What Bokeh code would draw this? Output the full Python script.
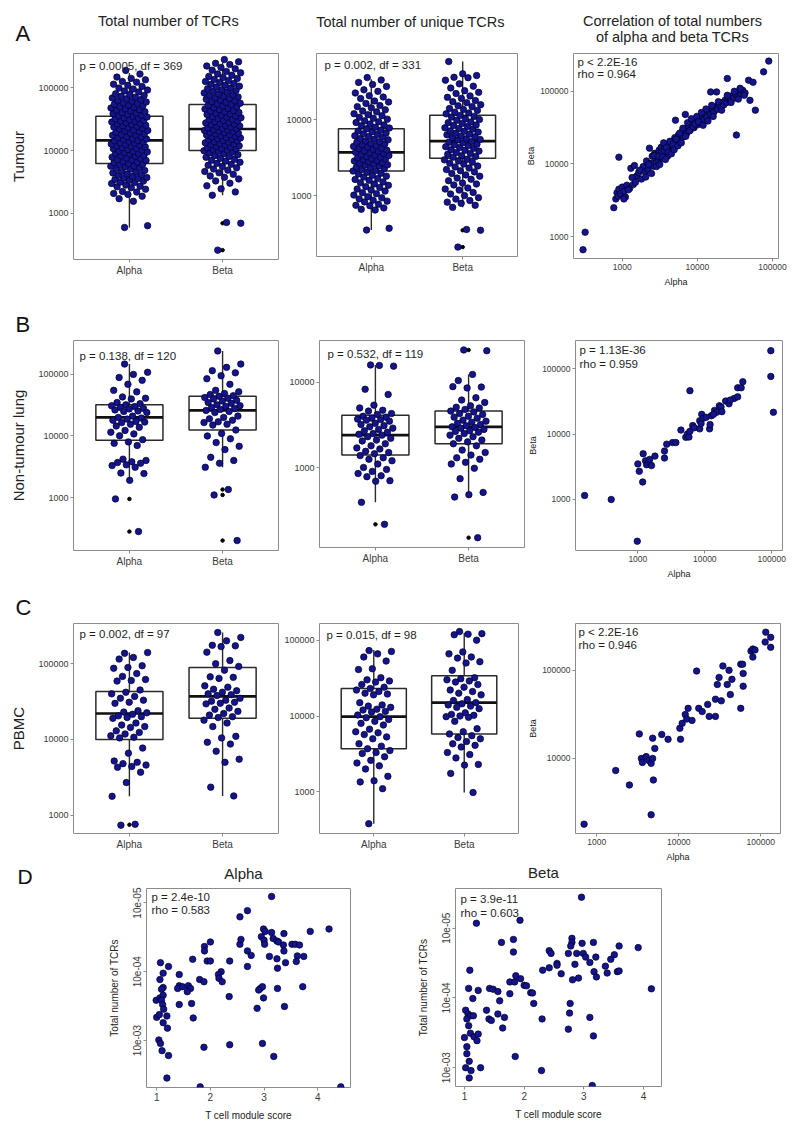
import numpy as np
from bokeh.plotting import figure
from bokeh.layouts import row, column
from bokeh.models import Range1d, FixedTicker, NumeralTickFormatter, Label, CustomJSTickFormatter
from bokeh.embed import file_html
from bokeh.resources import INLINE

# ---------------- data ----------------
groups = ["Alpha", "Beta"]

# Row A: Tumour, total number of TCRs
tum_tot_alpha = [600, 640, 1560, 1720, 1880, 2010, 2080, 2190, 2240, 2430, 2570, 2650, 2710, 2830, 2990, 3110, 3150,
                 3270, 3360, 3480, 3580, 3640, 3720, 3910, 4050, 4140, 4230, 4410, 4560, 4660, 4830, 5070, 5180, 5290,
                 5480, 5620, 5750, 5940, 6050, 6180, 6460, 6580, 6690, 6970, 7090, 7210, 7520, 7640, 7830, 8120, 8250,
                 8390, 8810, 8960, 9060, 9340, 9520, 9690, 9950, 10150, 10380, 10690, 10880, 11120, 11450, 11670,
                 11890, 12230, 12480, 12710, 13080, 13320, 13590, 14030, 14250, 14440, 15010, 15220, 15480, 16170,
                 16440, 16730, 17420, 17690, 17980, 18420, 18890, 19510, 19960, 20470, 20870, 21230, 22180, 22650,
                 23040, 23570, 24190, 24700, 25220, 25800, 26430, 27050, 27580, 28300, 28970, 29600, 30190, 31000,
                 31840, 32500, 33190, 34100, 34920, 35700, 36480, 37400, 38410, 39300, 40190, 41400, 42570, 43600,
                 44610, 46000, 47230, 48500, 49790, 51200, 52710, 54100, 55690, 57400, 59080, 60700, 62340, 64300,
                 66480, 68400, 70350, 72600, 74920, 77300, 79580, 85310, 88200, 91240, 94500, 97930, 104200, 108300,
                 112900, 121400, 125100, 132600, 139700, 146500, 163800, 187000]
tum_tot_beta = [262, 700, 720, 1950, 2200, 2460, 2750, 3030, 3290, 3540, 3760, 3950, 4180, 4420, 4650, 4880, 5090, 5310,
                5560, 5830, 6040, 6250, 6520, 6790, 7010, 7240, 7530, 7810, 8050, 8290, 8600, 8880, 9150, 9410, 9670,
                9930, 10200, 10410, 10620, 10840, 11110, 11370, 11620, 11880, 12150, 12440, 12700, 12960, 13260,
                13580, 13860, 14150, 14490, 14830, 15130, 15440, 15800, 16150, 16500, 16860, 17230, 17590, 17950,
                18320, 18740, 19170, 19550, 19940, 20400, 20850, 21250, 21680, 22140, 22610, 23050, 23580, 24090,
                24540, 25110, 25690, 26240, 26820, 27460, 28130, 28740, 29370, 30110, 30860, 31560, 32280, 33100,
                33910, 34790, 35460, 36570, 37290, 38210, 39170, 40220, 41240, 42360, 43380, 44550, 45720, 46920,
                48150, 49510, 50820, 52230, 53640, 55070, 56510, 58190, 59870, 61520, 63140, 65010, 66920, 68860,
                70880, 72810, 75140, 77190, 79730, 81880, 84610, 87170, 89970, 92480, 95620, 98340, 101800, 105200,
                108600, 112300, 115900, 120500, 124300, 129200, 133700, 139100, 144200, 150300, 156800, 164500,
                171300, 180000, 188400, 198200, 207900, 219600, 231600, 242000, 256200, 278000]
tum_tot_q1 = [6200, 10000]
tum_tot_med = [14500, 22000]
tum_tot_q3 = [35000, 54000]
tum_tot_wlo = [600, 1950]
tum_tot_whi = [170000, 250000]
tum_tot_out = [[], [262, 700]]

# Row A: Tumour, unique TCRs
tum_uni_alpha = [352, 371, 645, 660, 688, 734, 745, 768, 826, 845, 871, 905, 935, 968, 1015, 1060, 1092, 1146, 1180,
                 1218, 1277, 1310, 1364, 1425, 1470, 1513, 1588, 1630, 1676, 1752, 1800, 1846, 1927, 1970, 2024, 2105,
                 2140, 2196, 2273, 2320, 2368, 2447, 2500, 2543, 2618, 2670, 2714, 2796, 2850, 2894, 2977, 3030, 3078,
                 3157, 3210, 3266, 3364, 3420, 3487, 3582, 3640, 3706, 3815, 3880, 3958, 4074, 4150, 4226, 4363, 4440,
                 4528, 4672, 4760, 4857, 5024, 5120, 5228, 5413, 5530, 5648, 5862, 5980, 6117, 6364, 6490, 6648, 6921,
                 7070, 7248, 7563, 7740, 7928, 8294, 8500, 8716, 9143, 9380, 9627, 10120, 10400, 10690, 11270, 11600,
                 11940, 12630, 13000, 13430, 14270, 14800, 15260, 16320, 17000, 17570, 18940, 19800, 20570, 22380,
                 23500, 24630, 27280, 29000, 30840, 33150, 35700]
tum_uni_beta = [210, 350, 358, 700, 745, 790, 820, 860, 900, 940, 1000, 1050, 1100, 1180, 1220, 1260, 1380, 1420, 1460,
                1570, 1640, 1700, 1800, 1870, 1950, 2050, 2120, 2200, 2300, 2380, 2450, 2600, 2670, 2750, 2850, 2950,
                3000, 3200, 3270, 3350, 3500, 3590, 3700, 3850, 3940, 4000, 4200, 4300, 4400, 4550, 4660, 4750, 4950,
                5050, 5150, 5400, 5480, 5600, 5800, 5950, 6100, 6300, 6450, 6600, 6850, 7000, 7100, 7500, 7650, 7800,
                8100, 8350, 8500, 8900, 9100, 9300, 9800, 10000, 10200, 10800, 11000, 11300, 11900, 12200, 12500,
                13200, 13600, 14000, 14800, 15200, 15700, 16700, 17200, 17800, 19000, 19600, 20500, 22000, 22800,
                24000, 26000, 27500, 29500, 33000, 35500, 36000, 38000, 40000, 58000]
tum_uni_q1 = [2100, 3100]
tum_uni_med = [3700, 5200]
tum_uni_q3 = [7600, 11400]
tum_uni_wlo = [352, 700]
tum_uni_whi = [34000, 58000]
tum_uni_out = [[], [210, 350]]

# Row A: correlation alpha vs beta (tumour)
tum_cor_alpha = [300, 320, 770, 820, 850, 880, 900, 950, 1000, 1050, 1100, 900, 1150, 1250, 1300, 1400, 1450, 1550, 1650,
                 1800, 1900, 2000, 2100, 2200, 2300, 2400, 2500, 2600, 2700, 2800, 2900, 3000, 3100, 3200, 3300, 3400,
                 3500, 3600, 3700, 3800, 3900, 4000, 4200, 4400, 4600, 4800, 5000, 5100, 5300, 5600, 5900, 6200, 6500,
                 6900, 6800, 7200, 7600, 8000, 8500, 9000, 9500, 10000, 10500, 11000, 11600, 12200, 12800, 13500,
                 14200, 15000, 15000, 15800, 16600, 17500, 18000, 18500, 19500, 20500, 21500, 22500, 23500, 25000,
                 24500, 26000, 27500, 29000, 30500, 32000, 33000, 34000, 36000, 38000, 40000, 43000, 48000, 50000,
                 55000, 59000, 76000, 89000,
                 1050, 1200, 1350, 1500, 1700, 2050, 2250, 2450, 2650, 2850, 3050, 3150, 3350, 3450, 3550, 3650, 3750,
                 3850, 4100, 4300, 4500, 4700, 4900, 5200, 5500, 5800, 6100, 6400, 7000, 7400, 7800, 8300, 8800, 9300,
                 9800, 10300, 11300, 11900, 13000, 13800, 15500, 16200, 19000, 21000, 25000, 28000, 31000, 35000,
                 37000, 42000]
tum_cor_beta = [660, 1150, 2500, 3300, 4000, 3600, 4500, 3900, 4800, 4200, 3500, 12400, 5100, 4600, 8700, 5200, 9500,
                6800, 7600, 6200, 9200, 7800, 11000, 8400, 16500, 10200, 12800, 9300, 14000, 11600, 13500, 10800,
                15500, 12200, 17000, 14200, 11800, 16200, 13200, 18500, 15000, 12800, 17500, 14600, 20500, 16800,
                23000, 40000, 19000, 25000, 21000, 27500, 23500, 48000, 30000, 26500, 33000, 29000, 36000, 31500,
                39000, 34500, 42000, 37500, 45000, 40500, 49000, 44000, 53000, 98000, 47500, 57000, 52000, 61000,
                98000, 56500, 66000, 60500, 70000, 65000, 76000, 150000, 70000, 81000, 75000, 87000, 80000, 93000,
                25000, 86000, 97000, 90000, 103000, 95000, 142000, 75000, 133000, 55000, 185000, 260000,
                3300, 4400, 6500, 5600, 8200, 6600, 9800, 7400, 13000, 9200, 12800, 9800, 14800, 12500, 19500, 15200,
                11500, 16800, 14500, 20500, 13800, 18500, 15700, 22000, 17800, 26500, 19500, 31000, 24000, 37000,
                28500, 42000, 32500, 35500, 45000, 38000, 51000, 34000, 57000, 39000, 64000, 45000, 72000, 55000,
                88000, 70000, 100000, 78000, 110000, 88000]

# Row B: non-tumour lung, total
ntl_tot_alpha = [147000, 108000, 100000, 89000, 80000, 69000, 55000, 52000, 43000, 41000, 40000, 35000, 33500, 32000,
                 31000, 30000, 29000, 28000, 27500, 26500, 25500, 25000, 24000, 21000, 20000, 19500, 18800, 18000,
                 17200, 16500, 16800, 15500, 14500, 13800, 12300, 11500, 10800, 10100, 8700, 8000, 7600, 7000, 4200,
                 4000, 3800, 3700, 3600, 3400, 3300, 3100, 2500, 2450, 1900, 950, 280]
ntl_tot_beta = [240000, 147000, 130000, 115000, 106000, 95000, 85000, 69000, 55000, 52000, 49000, 47000, 45000, 44000,
                42000, 41000, 40000, 38000, 37000, 35000, 34000, 32000, 31000, 30000, 29000, 28000, 27000, 26000,
                25000, 24000, 21000, 20000, 19000, 18000, 17000, 16500, 15500, 15000, 12500, 11000, 10000, 9000, 7800,
                6800, 6000, 4500, 4000, 3600, 3100, 1350, 1100, 200]
ntl_tot_q1 = [8500, 12500]
ntl_tot_med = [20000, 26000]
ntl_tot_q3 = [32000, 44000]
ntl_tot_wlo = [2000, 3100]
ntl_tot_whi = [147000, 240000]
ntl_tot_out = [[280, 950], [200, 1100, 1350]]

# Row B: non-tumour lung, unique
ntl_uni_alpha = [16000, 15500, 15800, 8300, 7200, 5400, 5000, 4700, 4600, 4300, 4200, 4000, 3900, 3800, 3700, 3650,
                 3600, 3500, 3300, 3200, 3100, 3000, 2900, 2800, 2700, 2600, 2500, 2450, 2400, 2300, 2200, 2100, 2050,
                 1900, 1800, 1700, 1650, 1550, 1500, 1450, 1380, 1300, 1250, 1200, 1100, 1000, 950, 900, 850, 800, 780,
                 700, 690, 390, 215]
ntl_uni_beta = [24000, 23500, 12400, 10500, 8800, 8600, 8900, 6600, 6200, 5800, 5300, 5100, 5000, 4800, 4600, 4500,
                4300, 4200, 4000, 3900, 3800, 3600, 3500, 3400, 3300, 3200, 3100, 3000, 2950, 2900, 2800, 2700, 2650,
                2600, 2500, 2400, 2300, 2200, 2100, 2000, 1900, 1800, 1600, 1500, 1400, 1300, 1250, 1150, 1100, 980,
                740, 510, 480, 450, 150]
ntl_uni_q1 = [1400, 1900]
ntl_uni_med = [2400, 3000]
ntl_uni_q3 = [4100, 4600]
ntl_uni_wlo = [390, 450]
ntl_uni_whi = [16000, 12400]
ntl_uni_out = [[215], [150, 24000]]

# Row B: correlation
ntl_cor_alpha = [160, 400, 980, 97000, 97000, 106000, 6000, 1000, 1050, 1180, 1200, 1300, 1350, 1450, 1500, 1600, 1800,
                 2500, 2500, 2700, 3300, 3700, 4400, 5200, 5500, 5800, 6000, 6600, 7000, 8400, 8400, 9000, 8800, 9500,
                 11800, 12000, 12500, 14000, 15000, 16500, 17500, 18000, 20500, 23000, 27500, 31000, 31000, 35000,
                 37000, 24000, 13500, 10500]
ntl_cor_beta = [1150, 1000, 230, 188000, 76000, 21500, 46000, 3500, 2700, 1850, 5000, 3900, 3400, 3700, 4100, 3300, 4600,
                4300, 5500, 7000, 7400, 7400, 11500, 8900, 10000, 9000, 11000, 13500, 12500, 12000, 16000, 20000,
                14500, 17500, 12000, 14000, 19000, 23000, 21500, 27000, 26000, 22000, 32000, 29000, 35000, 37000,
                51000, 51000, 63000, 33000, 20000, 18000]

# Row C: PBMC, total
pb_tot_alpha = [137000, 140000, 121000, 115000, 94000, 89000, 87000, 74000, 68000, 62000, 60000, 59000, 45000, 42000,
                40000, 37000, 35000, 33000, 31000, 30000, 24000, 23000, 22500, 21500, 20500, 20000, 19500, 19000,
                16500, 15500, 14800, 14400, 13000, 12400, 11800, 11200, 10700, 10500, 7700, 6600, 5200, 5000, 4800,
                4600, 4400, 4300, 3700, 2700, 1780, 760, 740]
pb_tot_beta = [258000, 222000, 200000, 175000, 172000, 168000, 142000, 110000, 100000, 92000, 82000, 67000, 66000,
               64000, 51000, 49000, 46000, 44000, 42000, 40000, 39000, 38000, 35000, 33000, 32000, 31000, 30000,
               29500, 26000, 25000, 23500, 22000, 21000, 20000, 19500, 18000, 16500, 14800, 11000, 10500, 9200, 8700,
               7000, 5500, 5000, 2350, 1800]
pb_tot_q1 = [10000, 19000]
pb_tot_med = [22000, 37000]
pb_tot_q3 = [43000, 89000]
pb_tot_wlo = [1780, 1800]
pb_tot_whi = [140000, 258000]
pb_tot_out = [[750], []]

# Row C: PBMC, unique
pb_uni_alpha = [73000, 71000, 66000, 60000, 53000, 42000, 41000, 32000, 30000, 29000, 28000, 26000, 24000, 23000,
                22000, 21000, 20000, 19500, 19000, 15000, 14000, 13500, 13000, 12300, 12000, 11500, 11300, 10300,
                9800, 9500, 9000, 8500, 8000, 7600, 6700, 6200, 6000, 5700, 5300, 5000, 4300, 4000, 3700, 3500, 3300,
                3200, 2900, 2600, 2400, 2200, 2000, 1600, 1400, 1350, 1100, 380]
pb_uni_beta = [130000, 122000, 120000, 118000, 100000, 70000, 66000, 60000, 58000, 52000, 50000, 40000, 32000, 31000,
               30000, 29000, 28000, 26000, 24000, 22000, 21000, 20000, 19000, 16500, 16000, 15000, 14500, 14000,
               13500, 13000, 12500, 11000, 10500, 10200, 10000, 9800, 9600, 8500, 6800, 6200, 5800, 5500, 5200,
               5000, 4600, 4300, 4100, 3900, 3300, 3100, 2800, 2300, 2250, 1750, 980]
pb_uni_q1 = [3700, 5800]
pb_uni_med = [9800, 15000]
pb_uni_q3 = [23000, 34000]
pb_uni_wlo = [380, 980]
pb_uni_whi = [74000, 125000]
pb_uni_out = [[], []]

# Row C: correlation
pb_cor_alpha = [700, 4600, 1700, 2500, 4900, 3500, 3600, 4000, 4300, 4600, 4800, 3300, 4800, 5100, 6200, 7400, 10500,
                10300, 11000, 12000, 13000, 12500, 14500, 16500, 17500, 19300, 22500, 23500, 28000, 28000, 29500,
                31000, 33000, 34500, 39000, 41000, 42500, 44500, 57000, 57000, 60000, 61000, 61000, 76000, 80000,
                85000, 80000, 115000, 113000, 132000, 132000]
pb_cor_beta = [1800, 2300, 7300, 5000, 5700, 10000, 9000, 10500, 9500, 8800, 10000, 19000, 17000, 13000, 18700, 16500,
               16500, 22000, 25000, 31500, 37000, 28000, 27000, 98000, 37000, 34000, 41000, 30000, 30000, 47000, 69000,
               83000, 45000, 112000, 69000, 100000, 53000, 79000, 37000, 117000, 117000, 66000, 92000, 165000,
               174000, 170000, 141000, 270000, 209000, 236000, 182000]

# Row D: T cell module score vs total number of TCRs
mod_alpha_score = [3.14, 2.69, 2.55, 4.21, 3.86, 2.95, 2.99, 3.02, 3.14, 3.37, 3.17, 3.24, 3.0, 3.01, 3.27, 3.52, 3.58,
                   3.66, 3.36, 2.55, 2.57, 2.0, 1.89, 1.89, 2.69, 2.76, 3.37, 3.1, 3.62, 3.74, 3.24, 3.40, 3.60, 1.67,
                   1.94, 2.0, 2.36, 1.07, 1.22, 2.69, 3.25, 2.2, 1.12, 1.42, 2.15, 2.16, 1.80, 1.88, 2.22, 1.06, 1.42,
                   1.39, 1.48, 1.59, 1.63, 1.12, 1.09, 1.57, 2.93, 2.97, 3.25, 3.72, 2.35, 2.90, 2.99, 0.99, 1.06,
                   1.12, 1.09, 1.11, 1.42, 1.65, 2.87, 3.38, 1.13, 1.0, 1.05, 1.19, 1.12, 1.2, 1.68, 1.04, 1.07, 1.10,
                   1.22, 1.88, 2.36, 2.97, 3.18, 1.19, 1.81, 4.43]
mod_alpha_tcr = [8.1e-6, 1.3e-5, 1.6e-5, 2.4e-5, 2.6e-5, 3.1e-5, 2.4e-5, 2.6e-5, 2.7e-5, 2.8e-5, 3.3e-5, 3.6e-5,
                 3.5e-5, 4.0e-5, 3.7e-5, 4.0e-5, 4.0e-5, 4.1e-5, 4.1e-5, 4.0e-5, 3.4e-5, 3.7e-5, 4.3e-5, 5.0e-5,
                 5.0e-5, 5.8e-5, 5.0e-5, 6.0e-5, 5.9e-5, 6.0e-5, 6.5e-5, 7.4e-5, 7.1e-5, 6.6e-5, 7.0e-5, 7.0e-5,
                 7.0e-5, 7.4e-5, 8.4e-5, 8.4e-5, 8.9e-5, 1.0e-4, 1.05e-4, 1.1e-4, 1.1e-4, 1.25e-4, 1.3e-4, 1.4e-4,
                 1.4e-4, 1.3e-4, 1.6e-4, 1.75e-4, 1.65e-4, 1.6e-4, 1.75e-4, 1.7e-4, 1.8e-4, 1.95e-4, 1.75e-4,
                 1.65e-4, 1.75e-4, 1.65e-4, 2.3e-4, 1.85e-4, 2.4e-4, 2.6e-4, 2.4e-4, 2.2e-4, 2.6e-4, 3.0e-4, 3.0e-4,
                 2.9e-4, 3.4e-4, 3.2e-4, 3.5e-4, 4.6e-4, 4.2e-4, 4.4e-4, 5.5e-4, 6.6e-4, 4.7e-4, 9.8e-4, 1.1e-3,
                 1.4e-3, 1.65e-3, 1.25e-3, 1.15e-3, 1.1e-3, 1.7e-3, 3.5e-3, 4.7e-3, 4.7e-3]
mod_beta_score = [2.96, 1.93, 1.2, 1.82, 1.62, 1.82, 2.80, 2.80, 2.78, 2.97, 3.16, 3.59, 3.91, 2.42, 2.45, 2.74, 2.88,
                  2.99, 3.03, 3.20, 3.51, 3.45, 3.36, 3.10, 2.85, 2.55, 2.55, 2.42, 2.31, 2.62, 2.81, 2.91, 3.17, 3.21,
                  3.39, 3.56, 3.59, 1.09, 1.86, 1.76, 1.84, 1.94, 2.0, 2.04, 2.11, 2.14, 1.76, 1.07, 1.23, 1.42, 1.48,
                  1.56, 1.14, 1.59, 2.16, 2.77, 1.02, 1.06, 1.10, 1.15, 1.37, 1.41, 1.45, 1.56, 1.67, 1.04, 1.07,
                  2.76, 3.10, 2.30, 1.64, 2.74, 1.0, 1.10, 1.16, 1.23, 1.21, 3.16, 1.04, 1.04, 1.08, 1.85, 1.02, 1.11,
                  1.27, 2.29, 1.08, 3.14, 4.13]
mod_beta_tcr = [3.6e-6, 7.7e-6, 8.5e-6, 1.45e-5, 1.6e-5, 2.2e-5, 1.4e-5, 1.6e-5, 1.8e-5, 1.65e-5, 1.6e-5, 1.8e-5,
                1.9e-5, 2.1e-5, 2.3e-5, 2.3e-5, 2.3e-5, 2.3e-5, 2.6e-5, 2.6e-5, 2.4e-5, 2.8e-5, 3.5e-5, 3.1e-5,
                3.3e-5, 3.2e-5, 3.4e-5, 3.7e-5, 4.0e-5, 4.5e-5, 5.5e-5, 5.2e-5, 4.2e-5, 5.0e-5, 4.4e-5, 4.2e-5,
                4.1e-5, 4.0e-5, 4.8e-5, 5.9e-5, 5.9e-5, 5.3e-5, 6.6e-5, 6.7e-5, 8.4e-5, 8.5e-5, 8.7e-5, 7.3e-5,
                7.8e-5, 7.3e-5, 7.5e-5, 8.1e-5, 1.02e-4, 1.1e-4, 1.2e-4, 1.2e-4, 1.5e-4, 1.7e-4, 1.8e-4, 1.8e-4,
                1.5e-4, 2.0e-4, 2.1e-4, 1.7e-4, 1.9e-4, 2.0e-4, 2.5e-4, 1.65e-4, 1.9e-4, 2.0e-4, 2.7e-4, 2.8e-4,
                3.7e-4, 3.2e-4, 3.6e-4, 3.3e-4, 4.1e-4, 3.5e-4, 5.0e-4, 6.3e-4, 8.1e-4, 6.9e-4, 1.0e-3, 1.1e-3,
                1.0e-3, 1.1e-3, 1.4e-3, 1.8e-3, 7.4e-5]

col_titles = ["Total number of TCRs", "Total number of unique TCRs",
              "Correlation of total numbers", "of alpha and beta TCRs"]
row_labels = ["Tumour", "Non-tumour lung", "PBMC"]
panel_letters = ["A", "B", "C", "D"]
notes_tum = ["p = 0.0005, df = 369", "p = 0.002, df = 331", "p < 2.2E-16", "rho = 0.964"]
notes_ntl = ["p = 0.138, df = 120", "p = 0.532, df = 119", "p = 1.13E-36", "rho = 0.959"]
notes_pb = ["p = 0.002, df = 97", "p = 0.015, df = 98", "p < 2.2E-16", "rho = 0.946"]
notes_mod = ["p = 2.4e-10", "rho = 0.583", "p = 3.9e-11", "rho = 0.603"]

# ---------------- styling ----------------
FONT = "Liberation Sans"
PT_FILL = "#14148e"
PT_LINE = "#000022"
GREY = "#8c8c8c"
TXT = "#3a3a3a"
BOXC = "#2b2b2b"
BOXW = 0.72
PAGE_W = 788


def jitter(n, half=0.2):
    k = np.arange(n)
    return ((k * 0.6180339887 + 0.37) % 1.0 - 0.5) * 2 * half


def new_fig(dims, xr, yr, xt="linear", yt="log"):
    fw, fh, bl, br, bt, bb = dims
    p = figure(frame_width=fw, frame_height=fh, min_border_left=bl, min_border_right=br,
               min_border_top=bt, min_border_bottom=bb, x_range=xr, y_range=yr,
               x_axis_type=xt, y_axis_type=yt, toolbar_location=None, output_backend="svg")
    p.grid.visible = False
    p.outline_line_color = GREY
    p.outline_line_width = 1
    p.background_fill_color = "white"
    p.border_fill_color = "white"
    for ax in p.axis:
        ax.axis_line_color = None
        ax.major_tick_line_color = GREY
        ax.major_tick_out = 3
        ax.major_tick_in = 0
        ax.minor_tick_line_color = None
        ax.major_label_text_font = FONT
        ax.major_label_text_font_size = "9px"
        ax.major_label_text_color = TXT
        ax.major_label_standoff = 2
        ax.axis_label_text_font = FONT
        ax.axis_label_text_font_style = "normal"
        ax.axis_label_text_color = "#222222"
    return p


def add_text(p, text, x, y, size, align="left", baseline="middle", color="#1e1e1e"):
    p.add_layout(Label(x=x, y=y, x_units="screen", y_units="screen", text=text, text_font=FONT,
                       text_font_size=size, text_align=align, text_baseline=baseline, text_color=color))


def strip_fig(h):
    # full-width text strip (letters and column titles), frame covers the whole canvas
    p = figure(frame_width=PAGE_W, frame_height=h, min_border=0, min_border_left=0, min_border_right=0,
               min_border_top=0, min_border_bottom=0, x_range=Range1d(0, PAGE_W), y_range=Range1d(0, h),
               x_axis_location=None, y_axis_location=None, toolbar_location=None, output_backend="svg")
    p.grid.visible = False
    p.outline_line_color = None
    return p


def add_letter(p, letter, x, y, size="22px"):
    add_text(p, letter, x, y, size, baseline="middle", color="#111111")


def set_row_label(p, text):
    p.yaxis.axis_label = text
    p.yaxis.axis_label_text_font_size = "15px"
    p.yaxis.axis_label_standoff = 8


def box_panel(dims, vals, q1, med, q3, wlo, whi, outl, yr, yticks, note, note_dx, note_dy):
    fh = dims[1]
    p = new_fig(dims, Range1d(0.4, 2.6), Range1d(*yr))
    xs = [1, 2]
    p.segment(x0=xs, y0=wlo, x1=xs, y1=q1, line_color=BOXC, line_width=1.4)
    p.segment(x0=xs, y0=q3, x1=xs, y1=whi, line_color=BOXC, line_width=1.4)
    p.vbar(x=xs, width=BOXW, bottom=q1, top=q3, fill_color="white", line_color=BOXC, line_width=1.5)
    p.segment(x0=[x - BOXW / 2 for x in xs], y0=med, x1=[x + BOXW / 2 for x in xs], y1=med,
              line_color="#111111", line_width=2.6)
    for gi, (v, o) in enumerate(zip(vals, outl)):
        if o:
            p.scatter([xs[gi]] * len(o), o, size=3.5, color="black")
        p.scatter(xs[gi] + jitter(len(v)), v, size=6.5, fill_color=PT_FILL, line_color=PT_LINE, line_width=0.7)
    p.xaxis.ticker = FixedTicker(ticks=xs)
    p.xaxis.major_label_overrides = {i + 1: g for i, g in enumerate(groups)}
    p.xaxis.major_label_text_font_size = "10px"
    p.yaxis.ticker = FixedTicker(ticks=yticks)
    p.yaxis.formatter = NumeralTickFormatter(format="0")
    add_text(p, note, note_dx, fh - note_dy, "11.5px")
    return p


def corr_panel(dims, ax, by, xr, yr, xticks, yticks, notes, dx, dy, gap):
    fh = dims[1]
    p = new_fig(dims, Range1d(*xr), Range1d(*yr), xt="log", yt="log")
    p.scatter(ax, by, size=6.5, fill_color=PT_FILL, line_color=PT_LINE, line_width=0.7)
    p.xaxis.ticker = FixedTicker(ticks=xticks)
    p.yaxis.ticker = FixedTicker(ticks=yticks)
    for a in p.axis:
        a.formatter = NumeralTickFormatter(format="0")
        a.major_label_text_font_size = "8.5px"
        a.axis_label_text_font_size = "9px"
    p.xaxis.axis_label = "Alpha"
    p.yaxis.axis_label = "Beta"
    p.xaxis.axis_label_standoff = 4
    p.yaxis.axis_label_standoff = 1
    add_text(p, notes[0], dx, fh - dy, "11.5px")
    add_text(p, notes[1], dx, fh - dy - gap, "11.5px")
    return p


def module_panel(dims, xs, ys, xr, yr, notes, dx, dy, gap):
    fh = dims[1]
    p = new_fig(dims, Range1d(*xr), Range1d(*yr), xt="linear", yt="log")
    p.scatter(xs, ys, size=6.5, fill_color=PT_FILL, line_color=PT_LINE, line_width=0.7)
    p.xaxis.ticker = FixedTicker(ticks=[1, 2, 3, 4])
    p.yaxis.ticker = FixedTicker(ticks=[1e-5, 1e-4, 1e-3])
    p.yaxis.formatter = CustomJSTickFormatter(
        code="return '10e-' + String(Math.round(-Math.log10(tick))).padStart(2, '0');")
    p.yaxis.major_label_orientation = "vertical"
    for a in p.axis:
        a.major_label_text_font_size = "10px"
        a.axis_label_text_font_size = "10px"
    p.xaxis.axis_label = "T cell module score"
    p.yaxis.axis_label = "Total number of TCRs"
    p.xaxis.axis_label_standoff = 6
    p.yaxis.axis_label_standoff = 11
    add_text(p, notes[0], dx, fh - dy, "11.5px")
    add_text(p, notes[1], dx, fh - dy - gap, "11.5px")
    return p


# ---------------- header: letter A and column titles ----------------
hdr = strip_fig(45)
add_letter(hdr, panel_letters[0], 15, 12.5)
add_text(hdr, col_titles[0], 168, 25, "14.5px", align="center", color="#222222")
add_text(hdr, col_titles[1], 410, 24, "14.5px", align="center", color="#222222")
add_text(hdr, col_titles[2], 672, 25, "14.5px", align="center", color="#222222")
add_text(hdr, col_titles[3], 672, 8.5, "14.5px", align="center", color="#222222")

# ---------------- Row A ----------------
a1 = box_panel((205, 206, 73, 3, 8, 32), [tum_tot_alpha, tum_tot_beta], tum_tot_q1, tum_tot_med, tum_tot_q3,
               tum_tot_wlo, tum_tot_whi, tum_tot_out, (186, 347000), [1000, 10000, 100000],
               notes_tum[0], 6, 12)
set_row_label(a1, row_labels[0])
a2 = box_panel((201, 203, 35, 3, 7, 36), [tum_uni_alpha, tum_uni_beta], tum_uni_q1, tum_uni_med, tum_uni_q3,
               tum_uni_wlo, tum_uni_whi, tum_uni_out, (158, 74000), [1000, 10000],
               notes_tum[1], 8, 11)
a3 = corr_panel((205, 205, 53, 10, 7, 34), tum_cor_alpha, tum_cor_beta, (224, 120000), (500, 331000),
                [1000, 10000, 100000], [1000, 10000, 100000], notes_tum[2:], 4, 8, 12)

# ---------------- Row B ----------------
stb = strip_fig(45)
add_letter(stb, panel_letters[1], 15, 12.5)
b1 = box_panel((205, 210, 73, 3, 2, 35), [ntl_tot_alpha, ntl_tot_beta], ntl_tot_q1, ntl_tot_med, ntl_tot_q3,
               ntl_tot_wlo, ntl_tot_whi, ntl_tot_out, (138, 355000), [1000, 10000, 100000],
               notes_ntl[0], 6, 15)
set_row_label(b1, row_labels[1])
b2 = box_panel((205, 207, 38, 1, 4, 36), [ntl_uni_alpha, ntl_uni_beta], ntl_uni_q1, ntl_uni_med, ntl_uni_q3,
               ntl_uni_wlo, ntl_uni_whi, ntl_uni_out, (115, 31000), [1000, 10000],
               notes_ntl[1], 8, 13)
b3 = corr_panel((207, 210, 48, 8, 2, 35), ntl_cor_alpha, ntl_cor_beta, (117, 145000), (166, 269000),
                [1000, 10000, 100000], [1000, 10000, 100000], notes_ntl[2:], 4, 9, 14)

# ---------------- Row C ----------------
stc = strip_fig(38)
add_letter(stc, panel_letters[2], 15, 14)
c1 = box_panel((205, 210, 73, 3, 2, 30), [pb_tot_alpha, pb_tot_beta], pb_tot_q1, pb_tot_med, pb_tot_q3,
               pb_tot_wlo, pb_tot_whi, pb_tot_out, (575, 339000), [1000, 10000, 100000],
               notes_pb[0], 6, 10)
set_row_label(c1, row_labels[2])
c2 = box_panel((199, 210, 38, 3, 1, 31), [pb_uni_alpha, pb_uni_beta], pb_uni_q1, pb_uni_med, pb_uni_q3,
               pb_uni_wlo, pb_uni_whi, pb_uni_out, (282, 166000), [1000, 10000, 100000],
               notes_pb[1], 7, 11)
c3 = corr_panel((205, 210, 54, 8, 1, 31), pb_cor_alpha, pb_cor_beta, (550, 174000), (1410, 339000),
                [1000, 10000, 100000], [10000, 100000], notes_pb[2:], 3, 8, 13)

# ---------------- Row D ----------------
std = strip_fig(24)
add_letter(std, panel_letters[3], 17, 11, size="21px")
add_text(std, groups[0], 243, 14, "15px", align="center", color="#222222")
add_text(std, groups[1], 543, 15, "15px", align="center", color="#222222")
d1 = module_panel((204, 199, 146, 5, 1, 40), mod_alpha_score, mod_alpha_tcr, (0.81, 4.61), (4.8e-3, 6.2e-6),
                  notes_mod[:2], 5, 8, 13)
d2 = module_panel((206, 198, 100, 20, 1, 41), mod_beta_score, mod_beta_tcr, (0.85, 4.3), (1.86e-3, 2.7e-6),
                  notes_mod[2:], 5, 10, 14)

layout = column(hdr, row(a1, a2, a3), stb, row(b1, b2, b3), stc, row(c1, c2, c3), std, row(d1, d2))

with open("out.html", "w") as f:
    f.write(file_html(layout, INLINE))
